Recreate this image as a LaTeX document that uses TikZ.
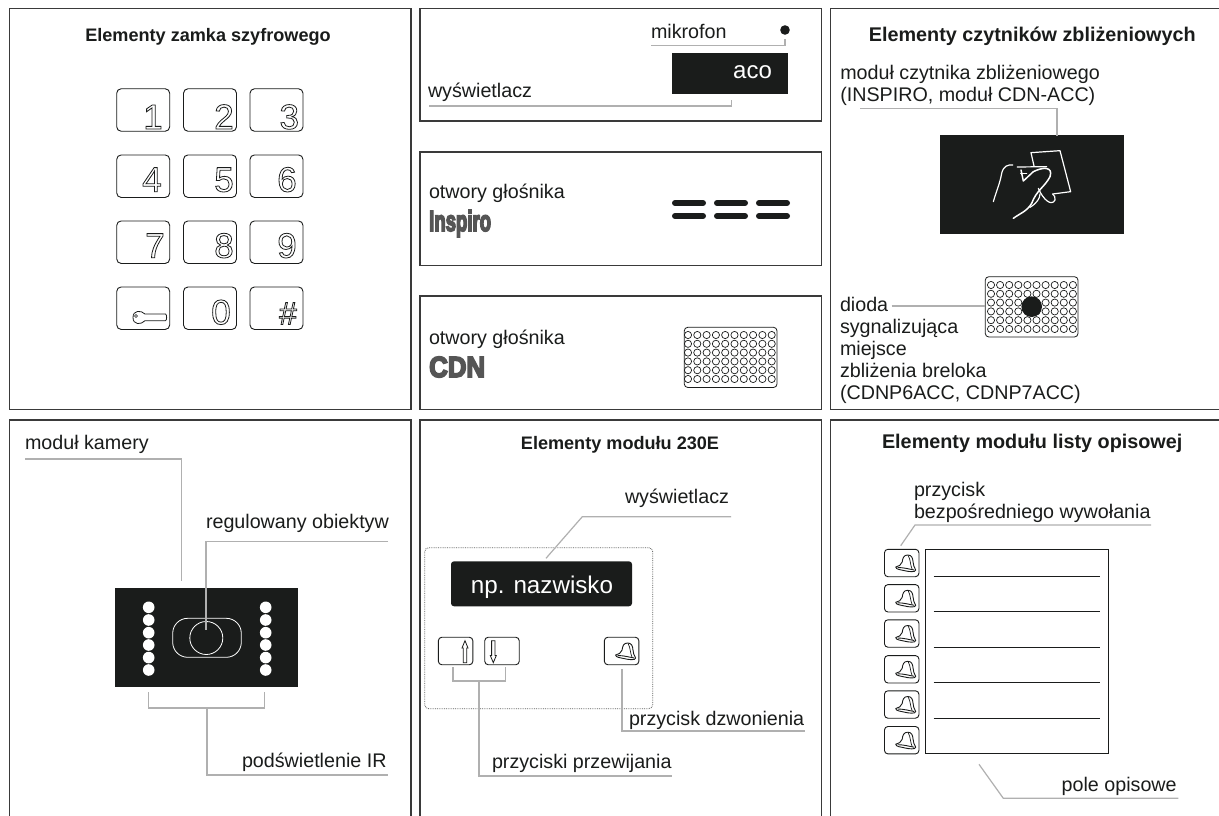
\documentclass[tikz,border=0pt]{standalone}
\usepackage{fontspec}
\usepackage{graphicx}
\setmainfont{Liberation Sans}
\definecolor{ink}{HTML}{1A1C1B}
\definecolor{frame}{HTML}{3A3A3A}
\definecolor{lead}{HTML}{B0B0B0}
\definecolor{logo}{HTML}{555555}
\newcommand{\outl}[1]{\special{pdf:code 1 Tr 0.8 w}#1\special{pdf:code 0 Tr 1 w}}
\newcommand{\heavy}[1]{\special{pdf:code 2 Tr 1.8 w}#1\special{pdf:code 0 Tr 1 w}}
\tikzset{
  x=1pt,y=-1pt,
  panel/.style={draw=frame,line width=1.4pt,fill=none},
  label/.style={inner sep=0pt,outer sep=0pt,anchor=base west,text=ink,font=\fontsize{19.7}{22}\selectfont},
  title/.style={inner sep=0pt,outer sep=0pt,anchor=base,text=ink,font=\fontsize{18.1}{22}\selectfont\bfseries},
  bigtitle/.style={title,font=\fontsize{19.8}{22}\selectfont\bfseries},
  leader/.style={draw=lead,line width=1.2pt,line join=miter},
  keybtn/.style={draw=ink,line width=0.9pt,rounded corners=4.5pt,minimum width=53pt,minimum height=42.5pt,inner sep=0pt},
  smallbtn/.style={draw=ink,line width=0.9pt,rounded corners=3.5pt,minimum width=34.5pt,minimum height=27.5pt,inner sep=0pt},
  digit/.style={inner sep=0pt,anchor=base,text=ink,font=\fontsize{35}{35}\selectfont},
  dark/.style={fill=ink,draw=none},
  hole/.style={draw=ink,line width=0.7pt,fill=none},
  hand/.style={draw=white,line width=1.2pt,line cap=round,line join=round}
}
\newcommand{\bellat}[1]{%
  \begin{scope}[shift={(#1)}]
    \draw[ink,line width=0.9pt,line join=round,fill=white] (-6,4) .. controls (-3,3.5) and (-0.5,2) .. (0.5,-1) .. controls (1,-5) and (2,-8) .. (6,-8) .. controls (10,-8) and (11,-5) .. (11.3,-1.5) .. controls (11.5,2) and (12.5,4.5) .. (14,7) .. controls (14,9.5) and (7,8.7) .. (3,7.7) .. controls (-1,6.7) and (-6,6.5) .. (-6,4) -- cycle;
    \draw[ink,line width=0.9pt] (-4,4.5) .. controls (2,4.5) and (7,6) .. (12.5,7);
    \draw[ink,line width=0.7pt] (6.5,-7.5) .. controls (9,-3) and (8.5,2) .. (10.5,6.5);
  \end{scope}}
\begin{document}
\begin{tikzpicture}
\useasboundingbox (0,0) rectangle (1219,816);
\fill[white] (0,0) rectangle (1219,816);
% panels
\draw[panel] (9.5,8.5) rectangle (411,409.5);
\draw[panel] (420,8.5) rectangle (821.5,121);
\draw[panel] (420,152) rectangle (821.5,265.5);
\draw[panel] (420,296) rectangle (821.5,409.5);
\draw[panel] (1219,8.5) -- (830.5,8.5) -- (830.5,409.5) -- (1219,409.5);
\draw[panel] (9.5,816) -- (9.5,420) -- (411,420) -- (411,816);
\draw[panel] (420,816) -- (420,420) -- (821.5,420) -- (821.5,816);
\draw[panel] (1219,420) -- (830.5,420) -- (830.5,816);
% titles
\node[title] (t1) at (208,41.7) {Elementy zamka szyfrowego};
\node[bigtitle] (t2) at (1032.3,41.7) {Elementy czytników zbliżeniowych};
\node[title] (t3) at (620,449) {Elementy modułu 230E};
\node[bigtitle] (t4) at (1032.2,448.3) {Elementy modułu listy opisowej};
% keypad
\foreach \nm/\cx/\cy in {k1/143.2/110,k2/210/110,k3/276.5/110,k4/143.2/176.2,k5/210/176.2,k6/276.5/176.2,k7/143.2/242.2,k8/210/242.2,k9/276.5/242.2,kk/143.2/308.2,k0/210/308.2,kh/276.5/308.2}
  \node[keybtn] (\nm) at (\cx,\cy) {};
\foreach \dn/\dx/\dy/\dt in {d1/153/129/1,d2/224/129/2,d3/289.3/129/3,d4/152/191.7/4,d5/224/191.7/5,d6/287/191.7/6,d7/155/257.7/7,d8/224/257.7/8,d9/287/257.7/9,d0/221/324.3/0}
  \node[digit] (\dn) at (\dx,\dy) {\outl{\dt}};
\node[digit,font=\fontsize{32}{32}\selectfont] (dh) at (288,324.5) {\outl{\#}};
% key icon
\draw[ink,line width=0.8pt,line join=round,fill=white] (145,314) -- (165.5,314) .. controls (167,314) and (167,320.7) .. (165.5,320.7) -- (145,320.7) .. controls (141,325) and (133,325) .. (133,317.5) .. controls (133,310) and (141,310) .. (145,314) -- cycle;
\draw[ink,line width=0.6pt] (136,316) circle (1.5);
% display block
\node[dark,minimum width=116pt,minimum height=41pt,inner sep=0pt] (disp) at (730,73.5) {};
\node[inner sep=0pt,anchor=base west,text=white,font=\fontsize{24}{24}\selectfont] (aco) at (733,79) {aco};
\fill[ink] (785,30) circle (4.8);
\node[label] (mik) at (651,39) {mikrofon};
\node[label] (wys) at (428,98) {wyświetlacz};
\draw[leader] (651,45.7) -- (785,45.7) -- (785,39);
\draw[leader] (429,106) -- (731.7,106) -- (731.7,100);
% speakers
\node[label] (ot1) at (429,198) {otwory głośnika};
\node[inner sep=0pt,anchor=base west,text=logo,font=\fontsize{29}{29}\selectfont\bfseries] (insp) at (429,231) {\scalebox{0.64}[1]{\heavy{Inspiro}}};
\foreach \bx in {672,714,756}{
  \draw[ink,line width=6pt,line cap=round] (\bx+3,203) -- (\bx+31,203);
  \draw[ink,line width=6pt,line cap=round] (\bx+3,216) -- (\bx+31,216);
}
\node[label] (ot2) at (429,344) {otwory głośnika};
\node[inner sep=0pt,anchor=base west,text=logo,font=\fontsize{29}{29}\selectfont\bfseries] (cdn) at (429,377) {\scalebox{0.89}[1]{\heavy{CDN}}};
\draw[ink,line width=0.8pt,rounded corners=3.5pt] (684.3,327.3) rectangle (777,387.5);
\foreach \i in {0,...,9}\foreach \j in {0,...,5}
  \draw[hole] (688+\i*9.3,335+\j*8.8) circle (3.6);
% card reader
\node[label] (cz1) at (840.3,79.3) {moduł czytnika zbliżeniowego};
\node[label] (cz2) at (840.3,101.7) {(INSPIRO, moduł CDN-ACC)};
\node[dark,minimum width=184pt,minimum height=99pt,inner sep=0pt] (rd) at (1032,184.5) {};
\draw[leader] (860.3,108.3) -- (1057,108.3) -- (1057,135.5);
\begin{scope}[shift={(830,120)},scale=1/3]
  \draw[hand] (612,138) -- (603,98) -- (690,92) -- (722,215) -- (668,222);
  \draw[hand] (490,245) .. controls (500,210) and (510,190) .. (515,160) .. controls (520,138) and (535,133) .. (548,135);
  \draw[hand] (562,141) -- (650,140);
  \draw[hand,line width=1.5pt] (573,150) -- (580,183) -- (610,155) .. controls (640,140) and (670,140) .. (660,170) .. controls (645,200) and (620,210) .. (605,250) .. controls (590,275) and (570,280) .. (550,295);
  \draw[hand] (572,160) -- (590,160);
  \draw[hand] (625,205) .. controls (640,240) and (665,260) .. (675,240) .. controls (678,232) and (672,226) .. (668,222);
  \draw[hand] (600,262) .. controls (620,250) and (630,235) .. (630,222);
\end{scope}
% diode
\draw[ink,line width=0.8pt,rounded corners=3.5pt] (985.3,276.7) rectangle (1078,337);
\foreach \i in {0,...,9}\foreach \j in {0,...,5}
  \draw[hole] (991+\i*9.1,285+\j*8.8) circle (3.6);
\fill[ink] (1031.7,306.7) circle (10.3);
\node[label] (di1) at (840,311.5) {dioda};
\node[label] (di2) at (840,333.3) {sygnalizująca};
\node[label] (di3) at (840,355) {miejsce};
\node[label] (di4) at (840,377.3) {zbliżenia breloka};
\node[label] (di5) at (840,399.3) {(CDNP6ACC, CDNP7ACC)};
\draw[leader] (891.7,306) -- (985.3,306);
% camera
\node[label] (cam) at (25,449) {moduł kamery};
\node[label] (reg) at (206,528.3) {regulowany obiektyw};
\node[label] (ir) at (242,767) {podświetlenie IR};
\node[dark,minimum width=183pt,minimum height=99pt,inner sep=0pt] (cambox) at (206.7,637.7) {};
\foreach \y in {607.3,620,632.7,645,657.6,670}{
  \fill[white] (148.7,\y) circle (5.8);
  \fill[white] (265.7,\y) circle (5.8);
}
\draw[white,line width=0.8pt,rounded corners=15pt] (172.7,618.3) rectangle (241.3,657.3);
\draw[white,line width=0.8pt] (206.3,638) circle (16.5);
\draw[leader] (25,459) -- (181.5,459) -- (181.5,580.7);
\draw[leader] (388,541.3) -- (206,541.3) -- (206,630);
\draw[leader] (148.5,692) -- (148.5,708) -- (264.5,708) -- (264.5,692);
\draw[leader] (207,708) -- (207,775) -- (388,775);
% module 230E
\draw[ink!70,line width=0.8pt,densely dotted,rounded corners=4pt] (424.7,547.7) rectangle (652.7,708.7);
\node[dark,rounded corners=3pt,minimum width=181pt,minimum height=45pt,inner sep=0pt] (npbox) at (541.5,583.8) {};
\node[inner sep=0pt,anchor=base,text=white,font=\fontsize{24.2}{24}\selectfont] (np) at (542,593) {np. nazwisko};
\node[smallbtn] (up) at (455.6,651) {};
\node[smallbtn] (dn) at (502,651) {};
\node[smallbtn] (bell) at (621.6,651) {};
\draw[ink,line width=0.8pt,line join=miter] (465,640.7) -- (468,648) -- (466.7,648) -- (466.7,662.7) -- (463.3,662.7) -- (463.3,648) -- (462,648) -- cycle;
\draw[ink,line width=0.8pt,line join=miter] (493.3,662.7) -- (496.3,655.5) -- (495,655.5) -- (495,640.7) -- (491.6,640.7) -- (491.6,655.5) -- (490.3,655.5) -- cycle;
\bellat{621.6,651}
\node[label] (w2) at (625,503.5) {wyświetlacz};
\node[label] (pdz) at (629,725.5) {przycisk dzwonienia};
\node[label] (pp) at (492,768) {przyciski przewijania};
\draw[leader] (546,558.3) -- (582.3,516.7) -- (731,516.7);
\draw[leader] (453,667) -- (453,681) -- (505.7,681) -- (505.7,667);
\draw[leader] (479,681) -- (479,776) -- (672,776);
\draw[leader] (622,669) -- (622,731) -- (805,731);
% list module
\node[label] (pr1) at (914,496.7) {przycisk};
\node[label] (pr2) at (914,518.3) {bezpośredniego wywołania};
\node[label] (po) at (1061.7,791) {pole opisowe};
\foreach \nm/\cy in {b1/563,b2/598.3,b3/633.5,b4/669.3,b5/704.5,b6/740.2}{
  \node[smallbtn,minimum height=27.4pt] (\nm) at (901.7,\cy) {};
  \bellat{901.7,\cy}
}
\draw[ink,line width=1pt] (925.7,549.3) rectangle (1108.7,753.5);
\foreach \y in {576.7,611.7,647,682.7,718}
  \draw[ink,line width=0.9pt] (933.7,\y) -- (1100,\y);
\draw[leader] (900.7,545.7) -- (915,525) -- (1151,525);
\draw[leader] (979,764.3) -- (1003.3,798.3) -- (1178.3,798.3);
\end{tikzpicture}
\end{document}
